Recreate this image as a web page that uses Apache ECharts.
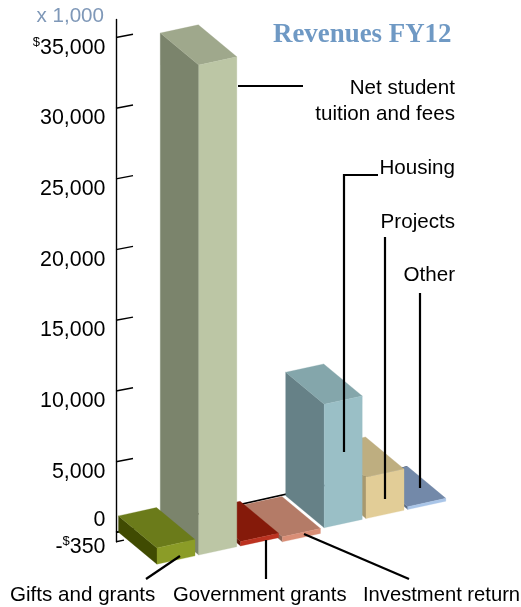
<!DOCTYPE html>
<html><head><meta charset="utf-8">
<style>html,body{margin:0;padding:0;background:#fff}#c{width:521px;height:607px}</style>
<script src="https://cdn.jsdelivr.net/npm/echarts@6/dist/echarts.min.js"></script>
</head><body><div id="c"></div>
<script>
// Data (US$ thousands)
const categories = ['Gifts and grants','Net student tuition and fees','Government grants','Investment return','Housing','Projects','Other'];
const values = [1150, 34650, 310, -350, 8730, 2920, 200];
const tickValues = [-658, 0, 5000, 10000, 15000, 20000, 25000, 30000, 35000];
const tickLabels = ['{n|-}{s|$}{n|350}','{n|0}','{n|5,000}','{n|10,000}','{n|15,000}','{n|20,000}','{n|25,000}','{n|30,000}','{s|$}{n|35,000}'];
const faceColors = [
  ['#8b9c27','#6b7b1a','#404b02'],
  ['#bcc6a5','#9fa88c','#7b846c'],
  ['#bc3220','#851a0a','#5e1408'],
  ['#d98e76','#b47b67','#8b6557'],
  ['#9abfc6','#84a6ab','#668187'],
  ['#e2cd97','#beae80','#a8996e'],
  ['#a9c5e8','#7389a9','#5a6d88']
];

const FONT = '"Liberation Sans", Arial, sans-serif';
const FS = 20.6, TICK_FS = 21.4;
const AXIS_X = 116, DEPTH_X = 38.5, DEPTH_Y = 32, SLOPE = 0.218, FRONT_OFF = 22.6, FRONT_REF = 199;
const BAR_RATIO = 0.91;

function renderBar(params, api) {
  const i = api.value(0), v = api.value(1);
  const band = api.size([1, 0])[0];
  const w = band * BAR_RATIO;
  const cx = api.coord([i, 0])[0];
  const x0 = cx - w / 2, x1 = cx + w / 2;
  const off = FRONT_OFF - (x0 - FRONT_REF) * SLOPE;
  const yt = api.coord([i, Math.max(v, 0)])[1] + off;
  const yb = api.coord([i, Math.min(v, 0)])[1] + off;
  const r = w * SLOPE;
  const c = faceColors[i];
  const poly = (pts, fill) => ({ type: 'polygon', shape: { points: pts }, style: { fill, stroke: fill, lineWidth: 0.3 } });
  return { type: 'group', children: [
    poly([[x0, yt], [x0 - DEPTH_X, yt - DEPTH_Y], [x0 - DEPTH_X, yb - DEPTH_Y], [x0, yb]], c[2]),
    poly([[x0, yt], [x1, yt - r], [x1 - DEPTH_X, yt - r - DEPTH_Y], [x0 - DEPTH_X, yt - DEPTH_Y]], c[1]),
    poly([[x0, yt], [x1, yt - r], [x1, yb - r], [x0, yb]], c[0])
  ]};
}

function renderTick(params, api) {
  const v = api.value(1);
  const y = api.coord([0, v])[1];
  const short = params.dataIndex === 0;
  const len = short ? 8 : 17;
  const nudge = short ? 5.2 : (v === 0 ? -11.8 : 10.3);
  return { type: 'group', children: [
    { type: 'line', shape: { x1: AXIS_X, y1: y, x2: AXIS_X + len, y2: y - len * 0.19 }, style: { stroke: '#000', lineWidth: 1.4 } },
    { type: 'text', style: {
        text: tickLabels[params.dataIndex], x: 105.5, y: y + nudge, align: 'right', verticalAlign: 'middle',
        rich: {
          n: { fontFamily: FONT, fontSize: TICK_FS, fill: '#000', lineHeight: 24, verticalAlign: 'middle' },
          s: { fontFamily: FONT, fontSize: 13, fill: '#000', lineHeight: 24, verticalAlign: 'top' }
        } } }
  ]};
}

function renderFloor(params, api) {
  const y0 = api.coord([0, 0])[1];
  const end = 407;
  return { type: 'line', shape: { x1: AXIS_X, y1: y0, x2: end, y2: y0 - (end - AXIS_X) * SLOPE - 2 }, style: { stroke: '#000', lineWidth: 1.6 } };
}

const ink = { stroke: '#000', lineWidth: 2.2, fill: 'none' };
const leader = pts => ({ type: 'polyline', z: 50, shape: { points: pts }, style: ink });
const label = (text, x, y, align, size) => ({ type: 'text', z: 50, x, y, style: { text, fontFamily: FONT, fontSize: size || FS, fill: '#000', align: align || 'right', verticalAlign: 'middle', lineHeight: 26 } });

const chart = echarts.init(document.getElementById('c'), null, { renderer: 'canvas' });
chart.setOption({
  animation: false,
  backgroundColor: '#fff',
  grid: { left: 155.1, right: 73.3, top: 19.5, bottom: 65.3, containLabel: false },
  xAxis: { type: 'category', data: categories, show: false },
  yAxis: { type: 'value', min: -658, max: 36273, offset: 39.1, position: 'left',
    axisLine: { show: true, onZero: false, lineStyle: { color: '#000', width: 1.4 } },
    axisTick: { show: false }, axisLabel: { show: false }, splitLine: { show: false } },
  series: [
    { type: 'custom', z: 1, renderItem: renderFloor, data: [[0, 0]], silent: true, clip: false },
    { type: 'custom', z: 1, renderItem: renderTick, data: tickValues.map(v => [0, v]), silent: true, clip: false },
    { type: 'custom', z: 2, renderItem: renderBar, encode: { x: 0, y: 1 }, clip: false, silent: true,
      data: categories.map((c, i) => [i, values[i]]).reverse() }
  ],
  graphic: { elements: [
    { type: 'text', z: 50, x: 451.5, y: 35, style: { text: 'Revenues FY12', fontFamily: '"Liberation Serif", serif', fontWeight: 'bold', fontSize: 26.9, fill: '#6f99c4', align: 'right', verticalAlign: 'middle' } },
    { type: 'text', z: 50, x: 104, y: 16, style: { text: 'x 1,000', fontFamily: FONT, fontSize: FS, fill: '#7f98b8', align: 'right', verticalAlign: 'middle' } },
    leader([[238, 86], [303, 86]]),
    leader([[344, 452], [344, 175], [378, 175]]),
    leader([[385, 499], [385, 237]]),
    leader([[420, 488], [420, 293]]),
    leader([[146, 579], [180, 556]]),
    leader([[266, 579], [266, 540]]),
    leader([[304, 534], [409, 579]]),
    label('Net student\ntuition and fees', 455, 101),
    label('Housing', 455, 168),
    label('Projects', 455, 222),
    label('Other', 455, 275),
    label('Gifts and grants', 10, 595, 'left'),
    label('Government grants', 173, 595, 'left', 20.3),
    label('Investment return', 363, 595, 'left', 20.2)
  ]}
});
</script></body></html>
